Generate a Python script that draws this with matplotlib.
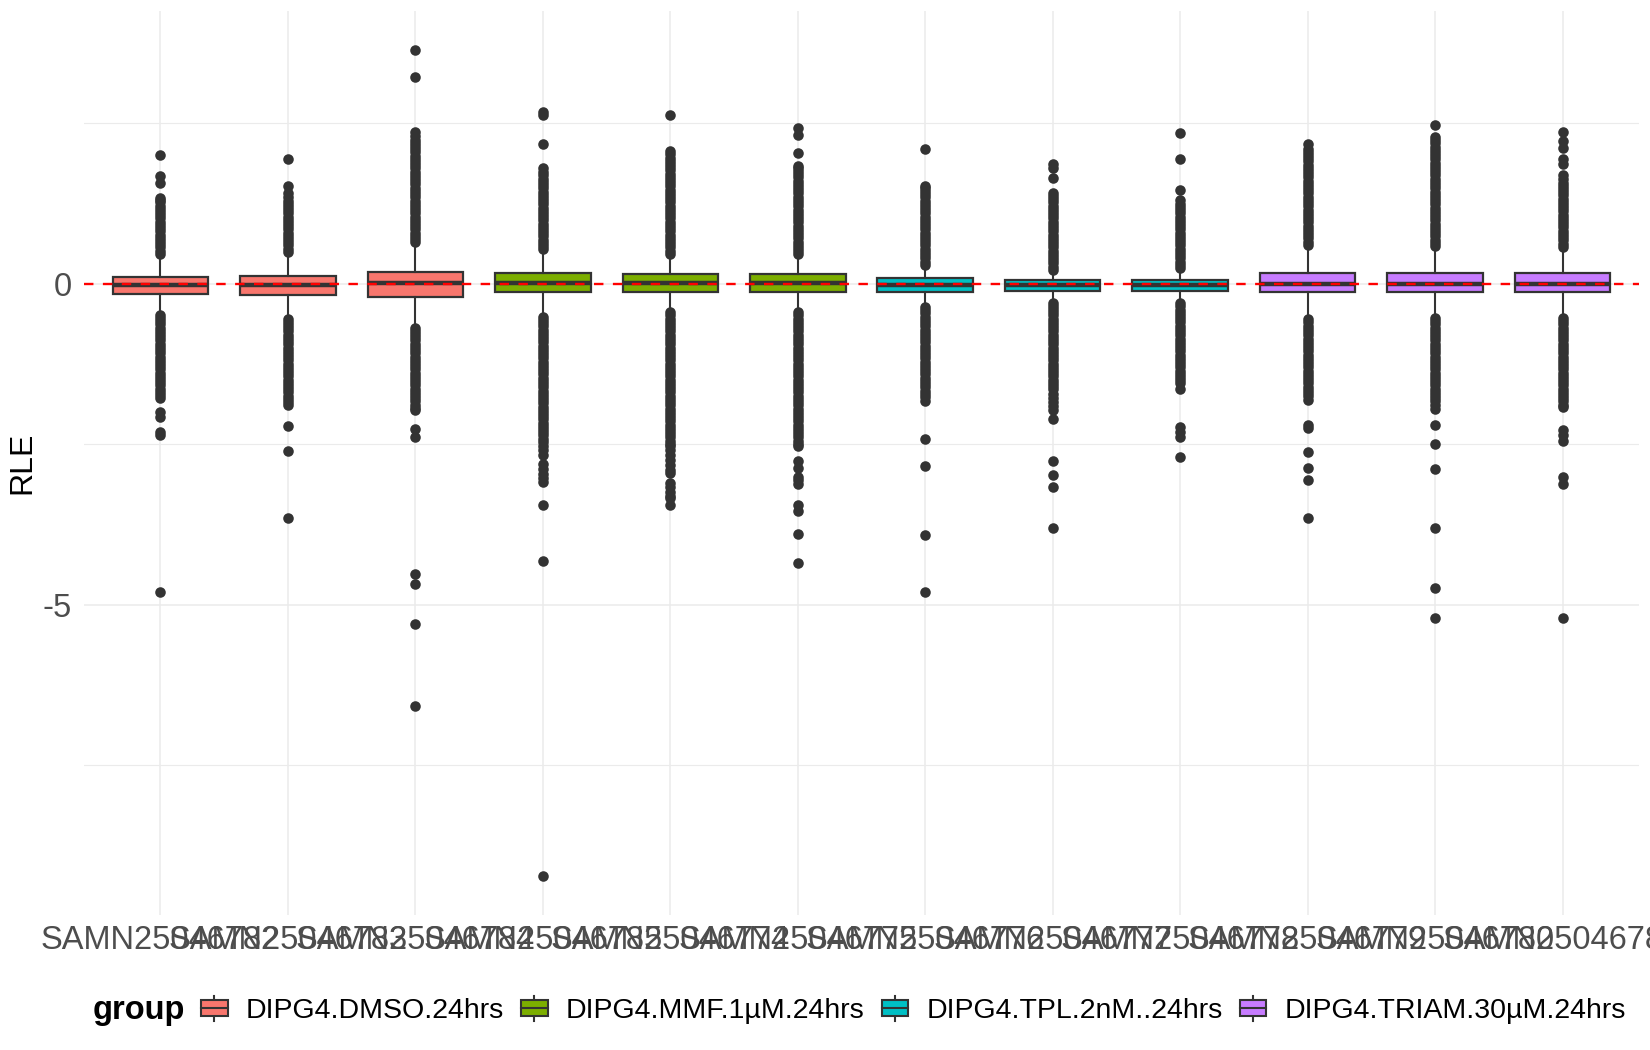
import matplotlib
matplotlib.use("Agg")
import matplotlib.pyplot as plt
from matplotlib.patches import Patch, Rectangle
from matplotlib.lines import Line2D
from matplotlib.legend_handler import HandlerBase

plt.rcParams['font.family'] = ['Liberation Sans', 'DejaVu Sans']

# ---- data ----
samples = ['SAMN25046782', 'SAMN25046783', 'SAMN25046784',
           'SAMN25046785', 'SAMN25046774', 'SAMN25046775',
           'SAMN25046776', 'SAMN25046777', 'SAMN25046778',
           'SAMN25046779', 'SAMN25046780', 'SAMN25046781']
groups = ['DIPG4.DMSO.24hrs'] * 3 + ['DIPG4.MMF.1µM.24hrs'] * 3 + \
         ['DIPG4.TPL.2nM..24hrs'] * 3 + ['DIPG4.TRIAM.30µM.24hrs'] * 3

q1 = [-0.16, -0.17, -0.20, -0.13, -0.12, -0.12, -0.13, -0.11, -0.11, -0.13, -0.13, -0.13]
med = [-0.02, -0.02, 0.01, 0.02, 0.01, 0.01, -0.01, -0.01, -0.01, 0.0, 0.0, 0.0]
q3 = [0.11, 0.13, 0.18, 0.17, 0.16, 0.15, 0.09, 0.06, 0.06, 0.17, 0.17, 0.17]
whis_lo = [-0.46, -0.52, -0.66, -0.49, -0.42, -0.42, -0.34, -0.27, -0.28, -0.53, -0.51, -0.51]
whis_hi = [0.45, 0.48, 0.63, 0.52, 0.45, 0.44, 0.28, 0.20, 0.23, 0.59, 0.57, 0.56]

# outliers above the upper whisker (dense runs are thousands of genes in the original)
upper_out = [
    [0.47, 0.52, 0.57, 0.62, 0.67, 0.72, 0.77, 0.82, 0.87, 0.92, 0.97, 1.02, 1.07, 1.12,
     1.17, 1.22, 1.27, 1.31, 1.34, 1.58, 1.68, 2.01],
    [0.5, 0.55, 0.6, 0.65, 0.7, 0.75, 0.8, 0.85, 0.9, 0.95, 1.0, 1.05, 1.1, 1.15, 1.2,
     1.25, 1.3, 1.35, 1.42, 1.53, 1.95],
    [0.65, 0.7, 0.75, 0.8, 0.85, 0.9, 0.95, 1.0, 1.05, 1.1, 1.15, 1.2, 1.25, 1.3, 1.35,
     1.4, 1.45, 1.5, 1.55, 1.6, 1.65, 1.7, 1.75, 1.8, 1.85, 1.9, 1.95, 2.0, 2.05, 2.1,
     2.15, 2.2, 2.25, 2.3, 2.37, 3.23, 3.65],
    [0.54, 0.59, 0.64, 0.69, 0.74, 0.79, 0.84, 0.89, 0.94, 0.99, 1.04, 1.09, 1.14, 1.19,
     1.24, 1.29, 1.34, 1.39, 1.44, 1.49, 1.54, 1.59, 1.64, 1.69, 1.74, 1.81, 2.18, 2.63,
     2.68],
    [0.47, 0.52, 0.57, 0.62, 0.67, 0.72, 0.77, 0.82, 0.87, 0.92, 0.97, 1.02, 1.07, 1.12,
     1.17, 1.22, 1.27, 1.32, 1.37, 1.42, 1.47, 1.52, 1.57, 1.62, 1.67, 1.72, 1.77, 1.82,
     1.87, 1.92, 1.97, 2.02, 2.07, 2.63],
    [0.46, 0.51, 0.56, 0.61, 0.66, 0.71, 0.76, 0.81, 0.86, 0.91, 0.96, 1.01, 1.06, 1.11,
     1.16, 1.21, 1.26, 1.31, 1.36, 1.41, 1.46, 1.51, 1.56, 1.61, 1.66, 1.71, 1.76, 1.81,
     1.84, 2.04, 2.32, 2.43],
    [0.3, 0.35, 0.4, 0.45, 0.5, 0.55, 0.6, 0.65, 0.7, 0.75, 0.8, 0.85, 0.9, 0.95, 1.0,
     1.05, 1.1, 1.15, 1.2, 1.25, 1.3, 1.35, 1.4, 1.45, 1.5, 1.53, 2.11],
    [0.22, 0.27, 0.32, 0.37, 0.42, 0.47, 0.52, 0.57, 0.62, 0.67, 0.72, 0.77, 0.82, 0.87,
     0.92, 0.97, 1.02, 1.07, 1.12, 1.17, 1.22, 1.27, 1.32, 1.37, 1.42, 1.65, 1.81, 1.87],
    [0.25, 0.3, 0.35, 0.4, 0.45, 0.5, 0.55, 0.6, 0.65, 0.7, 0.75, 0.8, 0.85, 0.9, 0.95,
     1.0, 1.05, 1.1, 1.15, 1.2, 1.25, 1.31, 1.47, 1.95, 2.35],
    [0.61, 0.66, 0.71, 0.76, 0.81, 0.86, 0.91, 0.96, 1.01, 1.06, 1.11, 1.16, 1.21, 1.26,
     1.31, 1.36, 1.41, 1.46, 1.51, 1.56, 1.61, 1.66, 1.71, 1.76, 1.81, 1.86, 1.91, 1.96,
     2.01, 2.06, 2.11, 2.18],
    [0.59, 0.64, 0.69, 0.74, 0.79, 0.84, 0.89, 0.94, 0.99, 1.04, 1.09, 1.14, 1.19, 1.24,
     1.29, 1.34, 1.39, 1.44, 1.49, 1.54, 1.59, 1.64, 1.69, 1.74, 1.79, 1.84, 1.89, 1.94,
     1.99, 2.04, 2.09, 2.14, 2.19, 2.24, 2.29, 2.47],
    [0.58, 0.63, 0.68, 0.73, 0.78, 0.83, 0.88, 0.93, 0.98, 1.03, 1.08, 1.13, 1.18, 1.23,
     1.28, 1.33, 1.38, 1.43, 1.48, 1.53, 1.58, 1.63, 1.7, 1.87, 1.95, 2.12, 2.23, 2.37],
]

# outliers below the lower whisker
lower_out = [
    [-0.48, -0.53, -0.58, -0.63, -0.68, -0.73, -0.78, -0.83, -0.88, -0.93, -0.98, -1.03,
     -1.08, -1.13, -1.18, -1.23, -1.28, -1.33, -1.38, -1.43, -1.48, -1.53, -1.58, -1.63,
     -1.68, -1.73, -1.77, -2.0, -2.08, -2.3, -2.36, -4.8],
    [-0.54, -0.59, -0.64, -0.69, -0.74, -0.79, -0.84, -0.89, -0.94, -0.99, -1.04, -1.09,
     -1.14, -1.19, -1.24, -1.29, -1.34, -1.39, -1.44, -1.49, -1.54, -1.59, -1.64, -1.69,
     -1.74, -1.79, -1.84, -1.88, -2.21, -2.6, -3.65],
    [-0.68, -0.73, -0.78, -0.83, -0.88, -0.93, -0.98, -1.03, -1.08, -1.13, -1.18, -1.23,
     -1.28, -1.33, -1.38, -1.43, -1.48, -1.53, -1.58, -1.63, -1.68, -1.73, -1.78, -1.83,
     -1.88, -1.93, -1.97, -2.26, -2.39, -4.52, -4.67, -5.3, -6.57],
    [-0.51, -0.56, -0.61, -0.66, -0.71, -0.76, -0.81, -0.86, -0.91, -0.96, -1.01, -1.06,
     -1.11, -1.16, -1.21, -1.26, -1.31, -1.36, -1.41, -1.46, -1.51, -1.56, -1.61, -1.66,
     -1.71, -1.76, -1.81, -1.86, -1.91, -1.96, -2.01, -2.06, -2.11, -2.16, -2.21, -2.26,
     -2.31, -2.36, -2.41, -2.46, -2.52, -2.58, -2.67, -2.8, -2.88, -2.96, -3.03, -3.08,
     -3.45, -4.32, -9.23],
    [-0.44, -0.49, -0.54, -0.59, -0.64, -0.69, -0.74, -0.79, -0.84, -0.89, -0.94, -0.99,
     -1.04, -1.09, -1.14, -1.19, -1.24, -1.29, -1.34, -1.39, -1.44, -1.49, -1.54, -1.59,
     -1.64, -1.69, -1.74, -1.79, -1.84, -1.89, -1.94, -1.99, -2.04, -2.09, -2.14, -2.19,
     -2.24, -2.29, -2.34, -2.39, -2.44, -2.49, -2.52, -2.58, -2.66, -2.74, -2.82, -2.9,
     -2.95, -3.1, -3.17, -3.24, -3.3, -3.34, -3.45],
    [-0.44, -0.49, -0.54, -0.59, -0.64, -0.69, -0.74, -0.79, -0.84, -0.89, -0.94, -0.99,
     -1.04, -1.09, -1.14, -1.19, -1.24, -1.29, -1.34, -1.39, -1.44, -1.49, -1.54, -1.59,
     -1.64, -1.69, -1.74, -1.79, -1.84, -1.89, -1.94, -1.99, -2.04, -2.09, -2.14, -2.19,
     -2.24, -2.29, -2.34, -2.39, -2.44, -2.49, -2.52, -2.75, -2.86, -3.0, -3.06, -3.11,
     -3.45, -3.53, -3.9, -4.34],
    [-0.36, -0.41, -0.46, -0.51, -0.56, -0.61, -0.66, -0.71, -0.76, -0.81, -0.86, -0.91,
     -0.96, -1.01, -1.06, -1.11, -1.16, -1.21, -1.26, -1.31, -1.36, -1.41, -1.46, -1.51,
     -1.56, -1.61, -1.66, -1.71, -1.76, -1.83, -2.42, -2.84, -3.91, -4.8],
    [-0.29, -0.34, -0.39, -0.44, -0.49, -0.54, -0.59, -0.64, -0.69, -0.74, -0.79, -0.84,
     -0.89, -0.94, -0.99, -1.04, -1.09, -1.14, -1.19, -1.24, -1.29, -1.34, -1.39, -1.44,
     -1.49, -1.54, -1.59, -1.64, -1.71, -1.77, -1.84, -1.9, -1.97, -2.1, -2.76, -2.97,
     -3.17, -3.8],
    [-0.3, -0.35, -0.4, -0.45, -0.5, -0.55, -0.6, -0.65, -0.7, -0.75, -0.8, -0.85, -0.9,
     -0.95, -1.0, -1.05, -1.1, -1.15, -1.2, -1.25, -1.3, -1.35, -1.4, -1.45, -1.5, -1.55,
     -1.63, -2.23, -2.3, -2.39, -2.69],
    [-0.55, -0.6, -0.65, -0.7, -0.75, -0.8, -0.85, -0.9, -0.95, -1.0, -1.05, -1.1, -1.15,
     -1.2, -1.25, -1.3, -1.35, -1.4, -1.45, -1.5, -1.55, -1.6, -1.65, -1.7, -1.75, -1.8,
     -2.19, -2.25, -2.61, -2.86, -3.06, -3.65],
    [-0.53, -0.58, -0.63, -0.68, -0.73, -0.78, -0.83, -0.88, -0.93, -0.98, -1.03, -1.08,
     -1.13, -1.18, -1.23, -1.28, -1.33, -1.38, -1.43, -1.48, -1.53, -1.58, -1.63, -1.68,
     -1.73, -1.78, -1.83, -1.88, -1.94, -2.2, -2.49, -2.89, -3.8, -4.74, -5.2],
    [-0.53, -0.58, -0.63, -0.68, -0.73, -0.78, -0.83, -0.88, -0.93, -0.98, -1.03, -1.08,
     -1.13, -1.18, -1.23, -1.28, -1.33, -1.38, -1.43, -1.48, -1.53, -1.58, -1.63, -1.68,
     -1.73, -1.78, -1.83, -1.88, -1.91, -2.27, -2.35, -2.44, -3.0, -3.11, -5.2],
]

group_names = ['DIPG4.DMSO.24hrs', 'DIPG4.MMF.1µM.24hrs',
               'DIPG4.TPL.2nM..24hrs', 'DIPG4.TRIAM.30µM.24hrs']
group_colors = ['#F8766D', '#7CAE00', '#00BFC4', '#C77CFF']
color_of = dict(zip(group_names, group_colors))

dark = '#333333'


class BoxKey(HandlerBase):
    # ggplot-style boxplot legend key
    def create_artists(self, legend, orig_handle, xdescent, ydescent,
                       width, height, fontsize, trans):
        x0, y0 = -xdescent, -ydescent
        cx = x0 + width / 2
        whisk = Line2D([cx, cx], [y0, y0 + height], color=dark, lw=1.5, transform=trans)
        box = Rectangle((x0, y0 + height * 0.18), width, height * 0.64,
                        facecolor=orig_handle.get_facecolor(), edgecolor=dark,
                        lw=1.5, transform=trans)
        mline = Line2D([x0, x0 + width], [y0 + height / 2] * 2, color=dark, lw=1.5,
                       transform=trans)
        return [whisk, box, mline]


fig = plt.figure(figsize=(16.5, 10.5), dpi=100)
ax = fig.add_axes([84 / 1650, 1 - 915 / 1050, 1555 / 1650, 904.5 / 1050])

stats = []
for i, s in enumerate(samples):
    stats.append(dict(label=s, q1=q1[i], med=med[i], q3=q3[i],
                      whislo=whis_lo[i], whishi=whis_hi[i],
                      fliers=upper_out[i] + lower_out[i]))

positions = list(range(1, len(samples) + 1))
bp = ax.bxp(stats, positions=positions, widths=0.75, patch_artist=True,
            showcaps=False,
            boxprops=dict(edgecolor=dark, linewidth=1.6),
            whiskerprops=dict(color=dark, linewidth=1.5),
            medianprops=dict(color=dark, linewidth=3.2),
            flierprops=dict(marker='o', markerfacecolor=dark, markeredgecolor=dark,
                            markeredgewidth=0, markersize=7.6))
for patch, g in zip(bp['boxes'], groups):
    patch.set_facecolor(color_of[g])

ax.axhline(0, color='red', linestyle=(0, (4, 4)), linewidth=1.7, zorder=5)

ax.set_xlim(0.4, 12.6)
ax.set_ylim(-9.83, 4.26)
ax.set_yticks([-5, 0])
ax.set_yticklabels(['-5', '0'])
ax.set_yticks([-7.5, -2.5, 2.5], minor=True)
ax.set_xticks(positions)
ax.set_xticklabels(samples)

ax.set_axisbelow(True)
ax.grid(True, which='major', color='#EBEBEB', linewidth=1.1)
ax.grid(True, which='minor', axis='y', color='#EBEBEB', linewidth=0.8)
for sp in ax.spines.values():
    sp.set_visible(False)
ax.tick_params(which='both', length=0)
ax.tick_params(axis='x', labelsize=23.5, labelcolor='#4D4D4D', pad=7)
ax.tick_params(axis='y', labelsize=23.5, labelcolor='#4D4D4D', pad=8.5)

ax.set_ylabel('RLE', fontsize=23, color='black')
ax.yaxis.label.set_verticalalignment('center')
ax.yaxis.set_label_coords(-0.0394, 0.5)

handles = [Patch(facecolor=c, label=n) for n, c in zip(group_names, group_colors)]
fig.text(93 / 1650, 1 - 1010 / 1050, 'group', fontsize=23.5, fontweight='bold',
         ha='left', va='center')
fig.legend(handles=handles, loc='center left', bbox_to_anchor=(201 / 1650, 1 - 1010 / 1050),
           ncol=4, frameon=False, fontsize=20.5, handler_map={Patch: BoxKey()},
           handlelength=0.94, handleheight=0.98, handletextpad=0.63,
           columnspacing=0.6, borderpad=0, borderaxespad=0)

fig.savefig('out.png', dpi=100)
